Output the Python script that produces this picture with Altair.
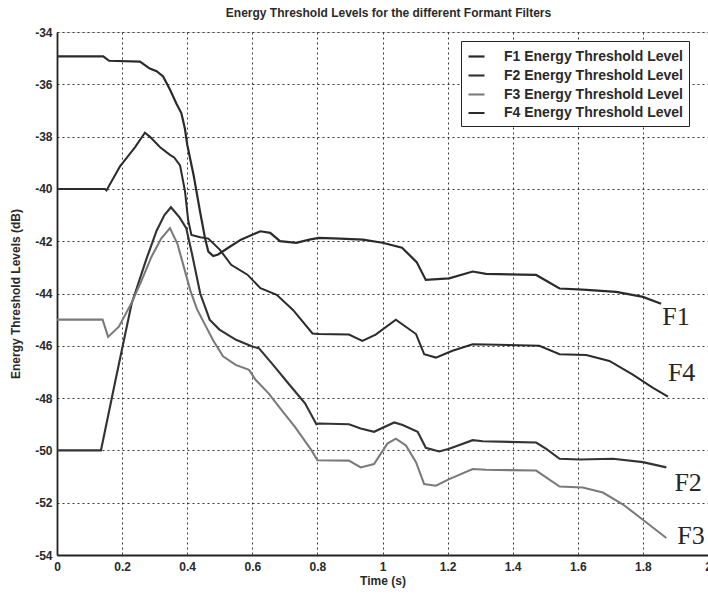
import altair as alt
import pandas as pd

series_names = ["F1 Energy Threshold Level", "F2 Energy Threshold Level",
                "F3 Energy Threshold Level", "F4 Energy Threshold Level"]
series_colors = ["#2b2b2b", "#333333", "#7a7a7a", "#2b2b2b"]
series_widths = [2.2, 2.0, 1.3, 2.2]

x_ticks = [0, 0.2, 0.4, 0.6, 0.8, 1, 1.2, 1.4, 1.6, 1.8, 2]
y_ticks = [-54, -52, -50, -48, -46, -44, -42, -40, -38, -36, -34]

f1_t = [0, 0.142, 0.16, 0.255, 0.285, 0.306, 0.326, 0.347, 0.367, 0.382, 0.393, 0.40, 0.42,
        0.44, 0.455, 0.465, 0.48, 0.495, 0.525, 0.565, 0.625, 0.655, 0.685, 0.735, 0.775,
        0.805, 0.87, 0.94, 1.0, 1.06, 1.105, 1.133, 1.205, 1.277, 1.318, 1.472, 1.544,
        1.615, 1.718, 1.80, 1.856]
f1_v = [-34.93, -34.93, -35.1, -35.13, -35.4, -35.5, -35.7, -36.2, -36.74, -37.1, -37.7,
        -38.3, -39.5, -40.9, -41.9, -42.4, -42.57, -42.51, -42.26, -41.94, -41.62, -41.68,
        -42.0, -42.06, -41.94, -41.87, -41.9, -41.94, -42.06, -42.25, -42.8, -43.48, -43.42,
        -43.16, -43.25, -43.29, -43.81, -43.85, -43.94, -44.13, -44.39]

f2_t = [0, 0.135, 0.18, 0.229, 0.275, 0.306, 0.33, 0.35, 0.377, 0.397, 0.415, 0.44, 0.469,
        0.499, 0.55, 0.60, 0.62, 0.66, 0.711, 0.762, 0.797, 0.805, 0.897, 0.933, 0.974,
        1.036, 1.062, 1.108, 1.133, 1.174, 1.205, 1.277, 1.308, 1.472, 1.503, 1.544, 1.605,
        1.708, 1.80, 1.872]
f2_v = [-50.0, -50.0, -47.3, -44.4, -42.67, -41.6, -41.0, -40.7, -41.1, -41.5, -42.5, -44.0,
        -45.0, -45.38, -45.77, -46.03, -46.09, -46.67, -47.44, -48.2, -49.0, -48.97, -49.0,
        -49.16, -49.29, -48.93, -49.03, -49.29, -49.9, -50.04, -49.94, -49.61, -49.65,
        -49.7, -49.94, -50.32, -50.35, -50.32, -50.45, -50.65]

f3_t = [0, 0.14, 0.157, 0.19, 0.229, 0.26, 0.29, 0.32, 0.347, 0.37, 0.39, 0.41, 0.43,
        0.455, 0.48, 0.51, 0.549, 0.59, 0.61, 0.65, 0.69, 0.731, 0.782, 0.80, 0.897, 0.933,
        0.974, 1.015, 1.041, 1.072, 1.103, 1.128, 1.164, 1.205, 1.277, 1.318, 1.472, 1.544,
        1.615, 1.677, 1.738, 1.80, 1.872]
f3_v = [-45.0, -45.0, -45.66, -45.27, -44.36, -43.5, -42.6, -41.9, -41.5, -42.1, -43.0,
        -43.9, -44.6, -45.2, -45.8, -46.4, -46.73, -46.92, -47.3, -47.82, -48.46, -49.1,
        -50.0, -50.38, -50.39, -50.65, -50.52, -49.74, -49.55, -49.81, -50.45, -51.29,
        -51.35, -51.1, -50.71, -50.74, -50.77, -51.38, -51.42, -51.61, -52.06, -52.65, -53.35]

f4_t = [0, 0.147, 0.152, 0.193, 0.24, 0.27, 0.285, 0.316, 0.347, 0.36, 0.378, 0.393, 0.403,
        0.413, 0.44, 0.465, 0.50, 0.535, 0.585, 0.625, 0.675, 0.725, 0.785, 0.805, 0.897,
        0.938, 0.979, 1.041, 1.103, 1.128, 1.164, 1.215, 1.277, 1.482, 1.544, 1.626, 1.697,
        1.769, 1.831, 1.877]
f4_v = [-40.0, -40.0, -40.06, -39.15, -38.4, -37.85, -38.0, -38.4, -38.7, -38.8, -39.1,
        -40.07, -41.2, -41.76, -41.85, -41.9, -42.32, -42.9, -43.28, -43.8, -44.05, -44.63,
        -45.53, -45.55, -45.57, -45.81, -45.57, -45.0, -45.55, -46.32, -46.45, -46.19,
        -45.94, -46.0, -46.32, -46.35, -46.58, -47.1, -47.61, -47.94]

label_text = ["F1", "F4", "F2", "F3"]
label_t = [1.902, 1.919, 1.939, 1.948]
label_v = [-44.9, -47.03, -51.23, -53.27]

rows = []
for name, ts, vs in zip(series_names, [f1_t, f2_t, f3_t, f4_t], [f1_v, f2_v, f3_v, f4_v]):
    for i, (t, v) in enumerate(zip(ts, vs)):
        rows.append({"series": name, "t": t, "v": v, "order": i})
df = pd.DataFrame(rows)
labels_df = pd.DataFrame({"txt": label_text, "t": label_t, "v": label_v})

xscale = alt.Scale(domain=[0, 2], nice=False, zero=False)
yscale = alt.Scale(domain=[-54, -34], nice=False, zero=False)

grid_kw = dict(grid=True, gridColor="#3a3a3a", gridDash=[2, 3], gridWidth=1, gridOpacity=1,
               ticks=False, domainColor="#222222", domainWidth=1.8,
               labelFont="Liberation Sans", labelFontSize=12, labelFontWeight="bold",
               labelColor="#2a2a2a", titleFont="Liberation Sans", titleFontSize=12,
               titleFontWeight="bold", titleColor="#2a2a2a")

x_enc = alt.X("t:Q", scale=xscale,
              axis=alt.Axis(values=x_ticks, title="Time (s)", labelExpr="'' + datum.value",
                            labelPadding=6, titlePadding=3, labelFlush=False, **grid_kw))
y_enc = alt.Y("v:Q", scale=yscale,
              axis=alt.Axis(values=y_ticks, title="Energy Threshold Levels (dB)",
                            labelExpr="'' + datum.value", labelPadding=5, titlePadding=12,
                            labelFlush=False, **grid_kw))

lines = alt.Chart(df).mark_line(interpolate="linear").encode(
    x=x_enc,
    y=y_enc,
    color=alt.Color("series:N", scale=alt.Scale(domain=series_names, range=series_colors),
                    legend=alt.Legend(title=None, orient="none", legendX=404, legendY=9,
                                      symbolType="stroke", symbolSize=256,
                                      symbolStrokeWidth=2.4, strokeColor="#222222",
                                      fillColor="white", padding=6, rowPadding=2,
                                      labelFont="Liberation Sans", labelFontSize=14,
                                      labelFontWeight="bold", labelColor="#2a2a2a",
                                      labelLimit=400, labelOffset=18)),
    strokeWidth=alt.StrokeWidth("series:N",
                                scale=alt.Scale(domain=series_names, range=series_widths),
                                legend=None),
    order="order:Q",
)

texts = alt.Chart(labels_df).mark_text(font="Liberation Serif", fontSize=26, color="#262626",
                                       align="center", baseline="middle").encode(
    x=alt.X("t:Q", scale=xscale),
    y=alt.Y("v:Q", scale=yscale),
    text="txt:N",
)

chart = alt.layer(lines, texts).properties(
    width=651, height=523,
    title=alt.TitleParams("Energy Threshold Levels for the different Formant Filters",
                          font="Liberation Sans", fontSize=12, fontWeight="bold",
                          color="#2a2a2a", offset=6, dx=6),
    autosize=alt.AutoSizeParams(type="none"),
    padding={"left": 57, "top": 32, "right": 0, "bottom": 42},
).configure_view(stroke="#222222", strokeWidth=1.6).configure(background="white")

chart.save("out.html", embed_options={"renderer": "svg", "actions": False})
